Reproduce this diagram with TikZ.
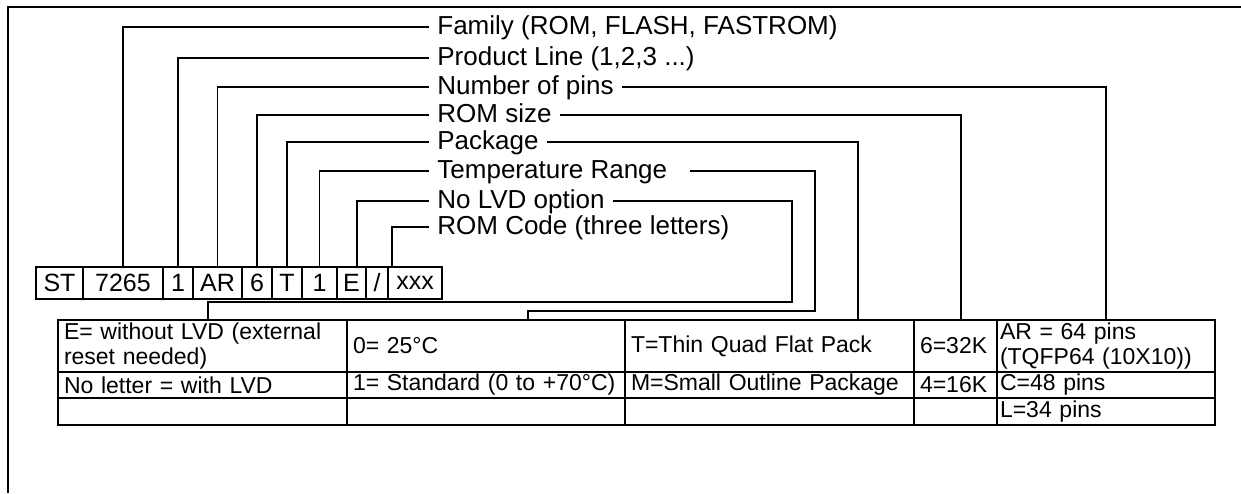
\documentclass[tikz,border=0pt]{standalone}
\usepackage{fontspec}
\setmainfont{Liberation Sans}
\usepackage{tikz}
\usetikzlibrary{positioning}
\tikzset{
    ld/.style    ={line width=0.9pt, draw=black},
    cell/.style  ={draw=black, line width=0.9pt, outer sep=0pt, inner sep=0pt,
                   minimum height=16pt, font=\fontsize{12.5}{14}\selectfont},
    lbl/.style   ={anchor=west, inner sep=4pt, text height=9.5pt, text depth=2.5pt,
                   font=\fontsize{13}{15}\selectfont},
    tcell/.style ={draw=black, line width=0.9pt, outer sep=0pt, inner xsep=3pt,
                   inner ysep=0pt, anchor=north west, align=left,
                   font=\fontsize{11.5}{12.2}\selectfont},
    rowa/.style  ={tcell, minimum height=26pt},
    rowb/.style  ={tcell, minimum height=13pt},
    rowc/.style  ={tcell, minimum height=13.5pt}
}

\begin{document}
\begin{tikzpicture}[x=0.5pt, y=-0.5pt]
  \useasboundingbox (0,0) rectangle (1241,493);
  \draw[ld] (8,493) -- (8,7) -- (1241,7);

  % code row
  \node[cell, minimum width=23.5pt] (st)   at (59.5,283) {ST};
  \node[cell, minimum width=40pt]   (fam)  at (123,283)  {7265};
  \node[cell, minimum width=15pt]   (pl)   at (178,283)  {1};
  \node[cell, minimum width=24.5pt] (pins) at (217.5,283) {AR};
  \node[cell, minimum width=15pt]   (rom)  at (257,283)  {6};
  \node[cell, minimum width=15pt]   (pkg)  at (287,283)  {T};
  \node[cell, minimum width=17.5pt] (tmp)  at (319.5,283) {1};
  \node[cell, minimum width=14.5pt] (lvd)  at (351.5,283) {E};
  \node[cell, minimum width=11pt]   (sl)   at (377,283)  {/};
  \node[cell, minimum width=27pt]   (code) at (415,283)  {xxx};

  % field names
  \node[lbl] (lfam)  at (429,27)  {Family (ROM, FLASH, FASTROM)};
  \node[lbl] (lpl)   at (429,58)  {Product Line (1,2,3 ...)};
  \node[lbl] (lpins) at (429,87)  {Number of pins};
  \node[lbl] (lrom)  at (429,115) {ROM size};
  \node[lbl] (lpkg)  at (429,142) {Package};
  \node[lbl] (ltmp)  at (429,171) {Temperature Range};
  \node[lbl] (llvd)  at (429,201) {No LVD option};
  \node[lbl] (lcode) at (429,227) {ROM Code (three letters)};

  % option table
  \node[rowa, text width=138.5pt] (lvda)  at (58,320)  {E= without LVD (external\\reset needed)};
  \node[rowa, text width=133pt]   (tmpa)  at (347,320) {0= 25°C};
  \node[rowa, text width=138.5pt] (pkga)  at (625,320) {T=Thin Quad Flat Pack};
  \node[rowa, text width=35.5pt]  (roma)  at (914,320) {6=32K};
  \node[rowa, text width=106pt, inner xsep=1.5pt] (pinsa) at (997,320) {AR = 64 pins\\(TQFP64~(10X10))};

  \node[rowb, text width=138.5pt] (lvdb)  at (58,372)  {No letter = with LVD};
  \node[rowb, text width=133pt]   (tmpb)  at (347,372) {1= Standard (0 to +70°C)};
  \node[rowb, text width=138.5pt] (pkgb)  at (625,372) {M=Small Outline Package};
  \node[rowb, text width=35.5pt]  (romb)  at (914,372) {4=16K};
  \node[rowb, text width=106pt, inner xsep=1.5pt] (pinsb) at (997,372) {C=48 pins};

  \node[rowc, text width=138.5pt] (lvdc)  at (58,398)  {};
  \node[rowc, text width=133pt]   (tmpc)  at (347,398) {};
  \node[rowc, text width=138.5pt] (pkgc)  at (625,398) {};
  \node[rowc, text width=35.5pt]  (romc)  at (914,398) {};
  \node[rowc, text width=106pt, inner xsep=1.5pt] (pinsc) at (997,398) {L=34 pins};

  % leaders from the code row
  \draw[ld] (fam.north)  |- (lfam.west);
  \draw[ld] (pl.north)   |- (lpl.west);
  \draw[ld] (pins.north) |- (lpins.west);
  \draw[ld] (rom.north)  |- (lrom.west);
  \draw[ld] (pkg.north)  |- (lpkg.west);
  \draw[ld] (tmp.north)  |- (ltmp.west);
  \draw[ld] ([xshift=2.75pt]lvd.north) |- (llvd.west);
  \draw[ld] ([xshift=2pt]code.north west) |- (lcode.west);

  % leaders down to the table
  \coordinate (tmpbend) at (815,311);
  \coordinate (lvdbend) at (792,302);
  \draw[ld] (lpins.east) -| (pinsa.north);
  \draw[ld] (lrom.east) -| ([xshift=23.5pt]roma.north west);
  \draw[ld] (lpkg.east) -| ([xshift=116.5pt]pkga.north west);
  \draw[ld] ([xshift=7pt]ltmp.east) -| (tmpbend) -| ([xshift=90.5pt]tmpa.north west);
  \draw[ld] (llvd.east) -| (lvdbend) -| ([xshift=75pt]lvda.north west);
\end{tikzpicture}
\end{document}
